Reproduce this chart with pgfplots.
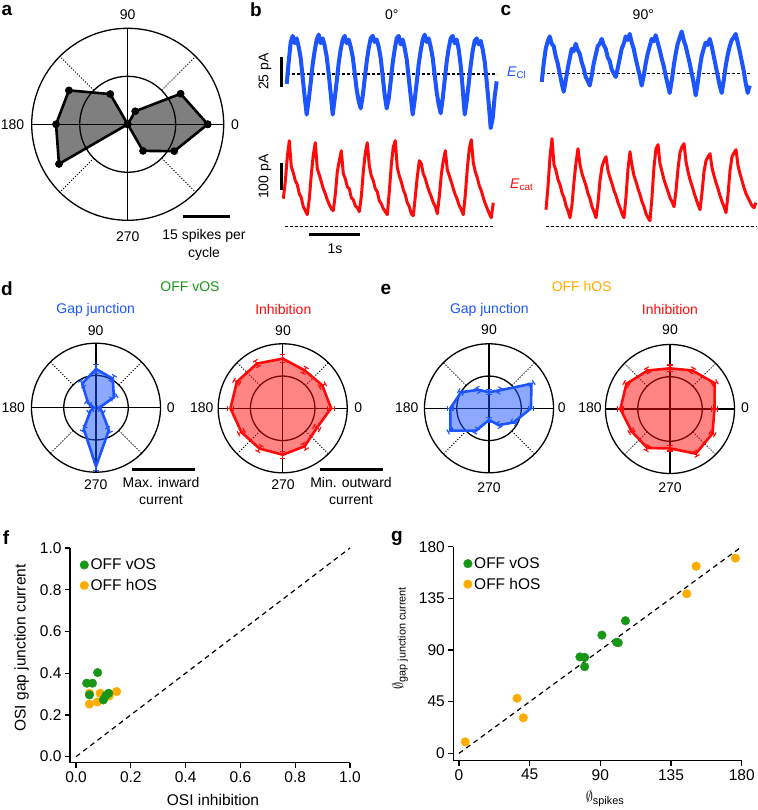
\documentclass[border=0pt]{standalone}
\usepackage{fontspec}
\setmainfont{Liberation Sans}
\usepackage{pgfplots}
\pgfplotsset{compat=1.18}
\usepgfplotslibrary{polar}
\usetikzlibrary{arrows.meta}

\definecolor{cblue}{RGB}{28,84,255}
\definecolor{cred}{RGB}{255,10,10}
\definecolor{cgreen}{RGB}{24,150,24}
\definecolor{corange}{RGB}{255,172,0}

\newcommand\fs{\fontsize{14}{17.5}\selectfont}
\newcommand\ft{\fontsize{15.5}{18}\selectfont}
\newcommand\fl{\fontsize{19}{20}\selectfont\bfseries}

\pgfplotsset{
  polarbox/.style={anchor=center, scale only axis, width=129pt, height=129pt,
    xmin=-1, xmax=1, ymin=-1, ymax=1, hide axis, clip=false},
  trace/.style={anchor=south west, scale only axis, width=210pt, xmin=0, xmax=105,
    hide axis, clip=false, data cs=cart},
  errbar/.style={data cs=polar, line width=1.1pt, {Bar[width=5.5pt]}-{Bar[width=5.5pt]}, forget plot},
  polyshape/.style={data cs=polar, line width=2.6pt, line join=round, fill opacity=0.5},
  scat/.style={anchor=south west, scale only axis, clip=false, data cs=cart,
    axis x line*=bottom, axis y line*=left,
    axis line style={line width=1.2pt},
    tick align=outside, major tick length=5pt,
    tick style={line width=1.2pt, black},
    tick label style={font=\ft},
    /pgf/number format/assume math mode=true,
    legend style={draw=none, fill=none, font=\ft, anchor=north west,
      row sep=4pt, inner sep=0pt},
    legend cell align=left, reverse legend,
    legend image code/.code={\draw[##1] plot coordinates {(5pt,0pt)};}},
  dots/.style={only marks, mark=*, mark size=4.3pt, mark options={draw=none, fill=#1}, color=#1},
}

% circles, cross and dotted diagonals of a polar frame
\newcommand\polarframe[4]{%
  \draw[line width=1.3pt] (axis cs:0,0) circle[radius=#1];
  \draw[line width=1.3pt] (axis cs:0,0) circle[radius=#2];
  \draw[line width=1.3pt] (axis cs:-#1,0) -- (axis cs:#1,0);
  \draw[line width=1.3pt] (axis cs:0,-#1) -- (axis cs:0,#1);
  \draw[line width=0.9pt, dash pattern=on 1.2pt off 1.6pt] (axis cs:#3,#3) -- (axis cs:#4,#4);
  \draw[line width=0.9pt, dash pattern=on 1.2pt off 1.6pt] (axis cs:-#3,#3) -- (axis cs:-#4,#4);
  \draw[line width=0.9pt, dash pattern=on 1.2pt off 1.6pt] (axis cs:-#3,-#3) -- (axis cs:-#4,-#4);
  \draw[line width=0.9pt, dash pattern=on 1.2pt off 1.6pt] (axis cs:#3,-#3) -- (axis cs:#4,-#4);
}
\newcommand\eb[4]{\addplot[errbar,#1] coordinates {(#2,#3) (#2,#4)};}

\begin{document}
\begin{tikzpicture}
\path[use as bounding box] (0pt,0pt) rectangle (757pt,810pt);

% ---------- a: spikes ----------
\begin{axis}[polarbox, at={(127.7pt,685.7pt)}, width=192pt, height=192pt,
  xmin=-30, xmax=30, ymin=-30, ymax=30]
\polarframe{30}{15}{10.61}{21.21}
\addplot[polyshape, black, fill=black, mark=*, mark size=3.6pt,
  mark options={fill opacity=1, line width=0.5pt}]
  coordinates {(0,25) (30,19.1) (60,4.7) (90,0) (120,10.9) (150,21.2) (180,22.4)
  (210,24.8) (240,0) (270,0) (300,9.6) (330,16.8) (360,25)};
\end{axis}

% ---------- b: 0 deg traces ----------
\begin{axis}[trace, at={(286.7pt,674.5pt)}, height=110.7pt, ymin=-50, ymax=40]
\draw[line width=1.2pt, dash pattern=on 3pt off 2pt] (axis cs:0,0) -- (axis cs:105,0);
\addplot[cblue, line width=4pt, line join=round] table[x expr=\coordindex, y=y, row sep=\\] {
y\\ -8\\ 10\\ 26\\ 31\\ 25\\ 29\\ 22\\ 13\\ -3\\ -19\\ -33\\
-21\\ -7\\ 8\\ 19\\ 28\\ 32\\ 25\\ 29\\ 23\\ 14\\ 0\\ -16\\ -33\\
-20\\ -6\\ 9\\ 20\\ 28\\ 31\\ 25\\ 28\\ 22\\ 14\\ 1\\ -13\\ -22\\ -28\\
-18\\ -4\\ 10\\ 21\\ 29\\ 31\\ 26\\ 28\\ 22\\ 13\\ -2\\ -17\\ -28\\
-20\\ -6\\ 9\\ 20\\ 29\\ 31\\ 24\\ 28\\ 21\\ 12\\ -3\\ -18\\ -33\\
-21\\ -7\\ 8\\ 19\\ 28\\ 32\\ 26\\ 29\\ 22\\ 13\\ -1\\ -15\\ -25\\ -32\\
-20\\ -5\\ 10\\ 21\\ 29\\ 31\\ 25\\ 28\\ 20\\ 7\\ -12\\ -33\\
-22\\ -8\\ 7\\ 19\\ 27\\ 29\\ 24\\ 27\\ 20\\ 10\\ -6\\ -24\\ -44\\ -36\\ -18\\ -6\\
};
\end{axis}

\begin{axis}[trace, at={(283.3pt,583.3pt)}, height=100pt, ymin=0, ymax=100]
\draw[line width=1.2pt, dash pattern=on 3pt off 2pt] (axis cs:0.8,0) -- (axis cs:105.8,0);
\addplot[cred, line width=3pt, line join=round] table[x expr=\coordindex, y=y, row sep=\\] {
y\\ 28\\ 45\\ 70\\ 86\\ 60\\ 54\\ 46\\ 42\\ 33\\ 29\\ 20\\ 16\\ 12\\
28\\ 52\\ 72\\ 84\\ 58\\ 52\\ 45\\ 38\\ 33\\ 27\\ 22\\ 18\\ 16\\
32\\ 55\\ 66\\ 76\\ 53\\ 48\\ 40\\ 38\\ 29\\ 27\\ 21\\ 19\\ 15\\
30\\ 55\\ 74\\ 84\\ 61\\ 51\\ 46\\ 38\\ 35\\ 26\\ 23\\ 18\\ 15\\ 12\\
35\\ 62\\ 80\\ 86\\ 59\\ 51\\ 45\\ 37\\ 32\\ 24\\ 20\\ 13\\ 11\\
30\\ 50\\ 66\\ 63\\ 53\\ 48\\ 41\\ 35\\ 30\\ 24\\ 20\\ 13\\
30\\ 52\\ 66\\ 76\\ 57\\ 51\\ 45\\ 38\\ 32\\ 27\\ 21\\ 17\\ 12\\
32\\ 58\\ 78\\ 87\\ 64\\ 55\\ 49\\ 41\\ 36\\ 29\\ 23\\ 18\\ 13\\ 9\\ 24\\
};
\end{axis}

% ---------- c: 90 deg traces ----------
\begin{axis}[trace, at={(541.7pt,675.2pt)}, height=110.7pt, ymin=-50, ymax=40]
\draw[line width=1.2pt, dash pattern=on 3pt off 2pt] (axis cs:0,0) -- (axis cs:104.5,0);
\addplot[cblue, line width=4pt, line join=round] table[x expr=\coordindex, y=y, row sep=\\] {
y\\ -7\\ 8\\ 20\\ 26\\ 30\\ 24\\ 22\\ 14\\ 8\\ 0\\ -8\\ -15\\
-6\\ 4\\ 12\\ 20\\ 18\\ 24\\ 19\\ 16\\ 9\\ 4\\ -3\\ -6\\ -10\\
-2\\ 8\\ 15\\ 22\\ 24\\ 28\\ 23\\ 20\\ 13\\ 10\\ 3\\ 0\\ -3\\
4\\ 12\\ 20\\ 24\\ 30\\ 27\\ 32\\ 25\\ 20\\ 12\\ 5\\ -2\\ -10\\
-2\\ 8\\ 16\\ 22\\ 28\\ 26\\ 31\\ 25\\ 19\\ 12\\ 6\\ -2\\ -9\\ -16\\
-6\\ 6\\ 16\\ 24\\ 29\\ 34\\ 27\\ 22\\ 15\\ 8\\ 0\\ -8\\ -18\\
-8\\ 4\\ 14\\ 20\\ 25\\ 23\\ 28\\ 22\\ 14\\ 6\\ -2\\ -10\\ -16\\
-6\\ 6\\ 15\\ 22\\ 27\\ 29\\ 32\\ 25\\ 18\\ 10\\ 2\\ -8\\ -16\\ -10\\
};
\end{axis}

\begin{axis}[trace, at={(546pt,583.3pt)}, height=100pt, ymin=0, ymax=100]
\draw[line width=1.2pt, dash pattern=on 3pt off 2pt] (axis cs:0,0) -- (axis cs:105.5,0);
\addplot[cred, line width=3pt, line join=round] table[x expr=\coordindex, y=y, row sep=\\] {
y\\ 17\\ 40\\ 70\\ 88\\ 62\\ 56\\ 47\\ 42\\ 34\\ 29\\ 21\\ 16\\ 9\\
22\\ 45\\ 64\\ 78\\ 62\\ 53\\ 47\\ 41\\ 33\\ 28\\ 20\\ 15\\ 9\\
24\\ 46\\ 60\\ 66\\ 70\\ 56\\ 49\\ 43\\ 36\\ 31\\ 24\\ 19\\ 13\\ 9\\
30\\ 58\\ 75\\ 61\\ 51\\ 45\\ 38\\ 32\\ 25\\ 20\\ 13\\ 9\\ 6\\
30\\ 60\\ 78\\ 82\\ 63\\ 55\\ 47\\ 41\\ 35\\ 29\\ 25\\ 20\\
36\\ 58\\ 74\\ 80\\ 83\\ 65\\ 55\\ 47\\ 41\\ 34\\ 28\\ 22\\ 17\\
34\\ 55\\ 66\\ 70\\ 73\\ 59\\ 51\\ 44\\ 38\\ 31\\ 25\\ 20\\ 14\\
32\\ 56\\ 70\\ 74\\ 77\\ 61\\ 53\\ 46\\ 39\\ 33\\ 29\\ 25\\ 21\\ 19\\ 24\\
};
\end{axis}

% ---------- d: OFF vOS ----------
\begin{axis}[polarbox, at={(96pt,402.3pt)}]
\polarframe{1}{0.5}{0.3536}{0.7071}
\addplot[polyshape, cblue, fill=cblue] coordinates {(0,0.05) (30,0.32) (60,0.52) (90,0.60)
  (120,0.43) (150,0.14) (180,0.03) (210,0.10) (240,0.38) (270,0.91) (300,0.40) (330,0.10) (360,0.05)};
\eb{cblue}{0}{0.01}{0.09}   \eb{cblue}{30}{0.26}{0.38}  \eb{cblue}{60}{0.46}{0.58}
\eb{cblue}{90}{0.52}{0.68}  \eb{cblue}{120}{0.37}{0.49} \eb{cblue}{150}{0.09}{0.19}
\eb{cblue}{180}{0.00}{0.06} \eb{cblue}{210}{0.05}{0.15} \eb{cblue}{240}{0.33}{0.43}
\eb{cblue}{270}{0.84}{0.98} \eb{cblue}{300}{0.35}{0.45} \eb{cblue}{330}{0.05}{0.15}
\end{axis}

\begin{axis}[polarbox, at={(282.7pt,401.7pt)}]
\polarframe{1}{0.5}{0.3536}{0.7071}
\addplot[polyshape, cred, fill=cred] coordinates {(0,0.75) (30,0.71) (60,0.68) (90,0.77)
  (120,0.80) (150,0.82) (180,0.81) (210,0.74) (240,0.72) (270,0.72) (300,0.68) (330,0.61) (360,0.75)};
\eb{cred}{0}{0.69}{0.81}   \eb{cred}{30}{0.65}{0.77}  \eb{cred}{60}{0.62}{0.74}
\eb{cred}{90}{0.70}{0.84}  \eb{cred}{120}{0.74}{0.86} \eb{cred}{150}{0.76}{0.88}
\eb{cred}{180}{0.75}{0.87} \eb{cred}{210}{0.68}{0.80} \eb{cred}{240}{0.66}{0.78}
\eb{cred}{270}{0.66}{0.78} \eb{cred}{300}{0.62}{0.74} \eb{cred}{330}{0.55}{0.67}
\end{axis}

% ---------- e: OFF hOS ----------
\begin{axis}[polarbox, at={(489pt,401.7pt)}]
\polarframe{1}{0.5}{0.3536}{0.7071}
\addplot[polyshape, cblue, fill=cblue] coordinates {(0,0.65) (30,0.76) (60,0.32) (90,0.25)
  (120,0.33) (150,0.50) (180,0.60) (210,0.69) (240,0.40) (270,0.18) (300,0.30) (330,0.44) (360,0.65)};
\eb{cblue}{0}{0.60}{0.70}   \eb{cblue}{30}{0.71}{0.81}  \eb{cblue}{60}{0.27}{0.37}
\eb{cblue}{90}{0.20}{0.30}  \eb{cblue}{120}{0.28}{0.38} \eb{cblue}{150}{0.45}{0.55}
\eb{cblue}{180}{0.55}{0.65} \eb{cblue}{210}{0.64}{0.74} \eb{cblue}{240}{0.35}{0.45}
\eb{cblue}{270}{0.13}{0.23} \eb{cblue}{300}{0.25}{0.35} \eb{cblue}{330}{0.39}{0.49}
\end{axis}

\begin{axis}[polarbox, at={(670pt,401pt)}]
\polarframe{1}{0.5}{0.3536}{0.7071}
\addplot[polyshape, cred, fill=cred] coordinates {(0,0.69) (30,0.80) (60,0.69) (90,0.63)
  (120,0.69) (150,0.78) (180,0.77) (210,0.69) (240,0.70) (270,0.61) (300,0.80) (330,0.76) (360,0.69)};
\eb{cred}{0}{0.64}{0.74}   \eb{cred}{30}{0.75}{0.85}  \eb{cred}{60}{0.64}{0.74}
\eb{cred}{90}{0.57}{0.69}  \eb{cred}{120}{0.64}{0.74} \eb{cred}{150}{0.73}{0.83}
\eb{cred}{180}{0.72}{0.82} \eb{cred}{210}{0.64}{0.74} \eb{cred}{240}{0.65}{0.75}
\eb{cred}{270}{0.56}{0.66} \eb{cred}{300}{0.75}{0.85} \eb{cred}{330}{0.71}{0.81}
\end{axis}

% ---------- f: OSI ----------
\begin{axis}[scat, at={(70pt,47.3pt)}, width=280pt, height=214.7pt,
  xmin=-0.022, xmax=1, ymin=-0.029, ymax=1,
  xtick={0,0.2,0.4,0.6,0.8,1}, ytick={0,0.2,0.4,0.6,0.8,1},
  xticklabel style={/pgf/number format/fixed, /pgf/number format/fixed zerofill, /pgf/number format/precision=1},
  yticklabel style={/pgf/number format/fixed, /pgf/number format/fixed zerofill, /pgf/number format/precision=1},
  legend style={at={(axis description cs:0.035,0.96)}}]
\addplot[data cs=cart, black, line width=1.2pt, dash pattern=on 5pt off 4pt, forget plot] coordinates {(0,0) (1,1)};
\addplot[data cs=cart, dots=corange] coordinates {(0.049,0.304) (0.049,0.252) (0.088,0.304) (0.078,0.262) (0.121,0.291) (0.148,0.312)};
\addlegendentry{OFF hOS}
\addplot[data cs=cart, dots=cgreen] coordinates {(0.039,0.352) (0.060,0.352) (0.079,0.403) (0.049,0.296) (0.100,0.272) (0.109,0.293) (0.119,0.304)};
\addlegendentry{OFF vOS}
\end{axis}

% ---------- g: preferred angle ----------
\begin{axis}[scat, at={(453.3pt,49.3pt)}, width=288.4pt, height=214pt,
  xmin=-3.6, xmax=180, ymin=-6.4, ymax=180,
  xtick={0,45,90,135,180}, ytick={0,45,90,135,180},
  legend style={at={(axis description cs:0.035,0.96)}}]
\addplot[data cs=cart, black, line width=1.2pt, dash pattern=on 5pt off 4pt, forget plot] coordinates {(0,0) (180,180)};
\addplot[data cs=cart, dots=corange] coordinates {(4,10) (37,48) (41,31) (145,139) (151,163) (176,170)};
\addlegendentry{OFF hOS}
\addplot[data cs=cart, dots=cgreen] coordinates {(77,84) (80,83.6) (80,75.5) (91,103) (100.4,96.7) (101.4,96.4) (106,115.5)};
\addlegendentry{OFF vOS}
\end{axis}

% ---------- text, scale bars ----------
\begin{scope}[x=1pt, y=1pt, font=\fs]
\node[font=\fl] at (7,800) {a};
\node[font=\fl] at (256,800) {b};
\node[font=\fl] at (506,800) {c};
\node[font=\fl] at (7,521) {d};
\node[font=\fl] at (386,521) {e};
\node[font=\fl] at (6,272) {f};
\node[font=\fl] at (397,272) {g};

% a
\node at (127.7,795) {90};
\node at (12.5,685.7) {180};
\node at (235,685.7) {0};
\node at (127.7,573.3) {270};
\draw[line width=2.5pt] (183,593.3) -- (230,593.3);
\node[align=center] at (204,565) {15 spikes per\\cycle};

% b, c
\node at (391.7,795) {0°};
\node at (643.3,795) {90°};
\draw[line width=2.5pt] (281.7,753.3) -- (281.7,722.7);
\node[rotate=90] at (265,738.3) {25 pA};
\draw[line width=2.5pt] (281.7,646.7) -- (281.7,620);
\node[rotate=90] at (265,633.3) {100 pA};
\draw[line width=2.5pt] (309.3,575.7) -- (360,575.7);
\node at (335,561.7) {1s};
\node[text=cblue] at (516.7,737.3) {\textit{E}\textsubscript{Cl}};
\node[text=cred] at (521.7,625) {\textit{E}\textsubscript{cat}};

% d
\node[text=cgreen] at (190,523.3) {OFF vOS};
\node[text=cblue] at (95.7,500) {Gap junction};
\node[text=cred] at (283.3,500) {Inhibition};
\node at (95.7,479.3) {90};
\node at (13.3,402.3) {180};
\node at (170.7,402.3) {0};
\node at (95.7,325) {270};
\node at (283,479.3) {90};
\node at (201.7,402.3) {180};
\node at (358.3,402.3) {0};
\node at (283,325) {270};
\draw[line width=2.5pt] (131.7,340.7) -- (195,340.7);
\node[align=center] at (161,319) {Max. inward\\current};
\draw[line width=2.5pt] (320,340.7) -- (383,340.7);
\node[align=center] at (351,319) {Min. outward\\current};

% e
\node[text=corange] at (581.7,523.3) {OFF hOS};
\node[text=cblue] at (489.3,500) {Gap junction};
\node[text=cred] at (670,500) {Inhibition};
\node at (489,480.7) {90};
\node at (406.7,402) {180};
\node at (561.7,402) {0};
\node at (489,322.7) {270};
\node at (670,480.7) {90};
\node at (590,402) {180};
\node at (745,402) {0};
\node at (670,322.7) {270};

% f, g axis labels
\node[font=\ft] at (213,10.5) {OSI inhibition};
\node[font=\ft, rotate=90] at (21.7,162) {OSI gap junction current};
\node[font=\ft] at (605,11) {$\emptyset$\textsubscript{spikes}};
\node[font=\ft, rotate=90] at (400,172) {$\emptyset$\textsubscript{gap junction current}};
\end{scope}
\end{tikzpicture}
\end{document}
